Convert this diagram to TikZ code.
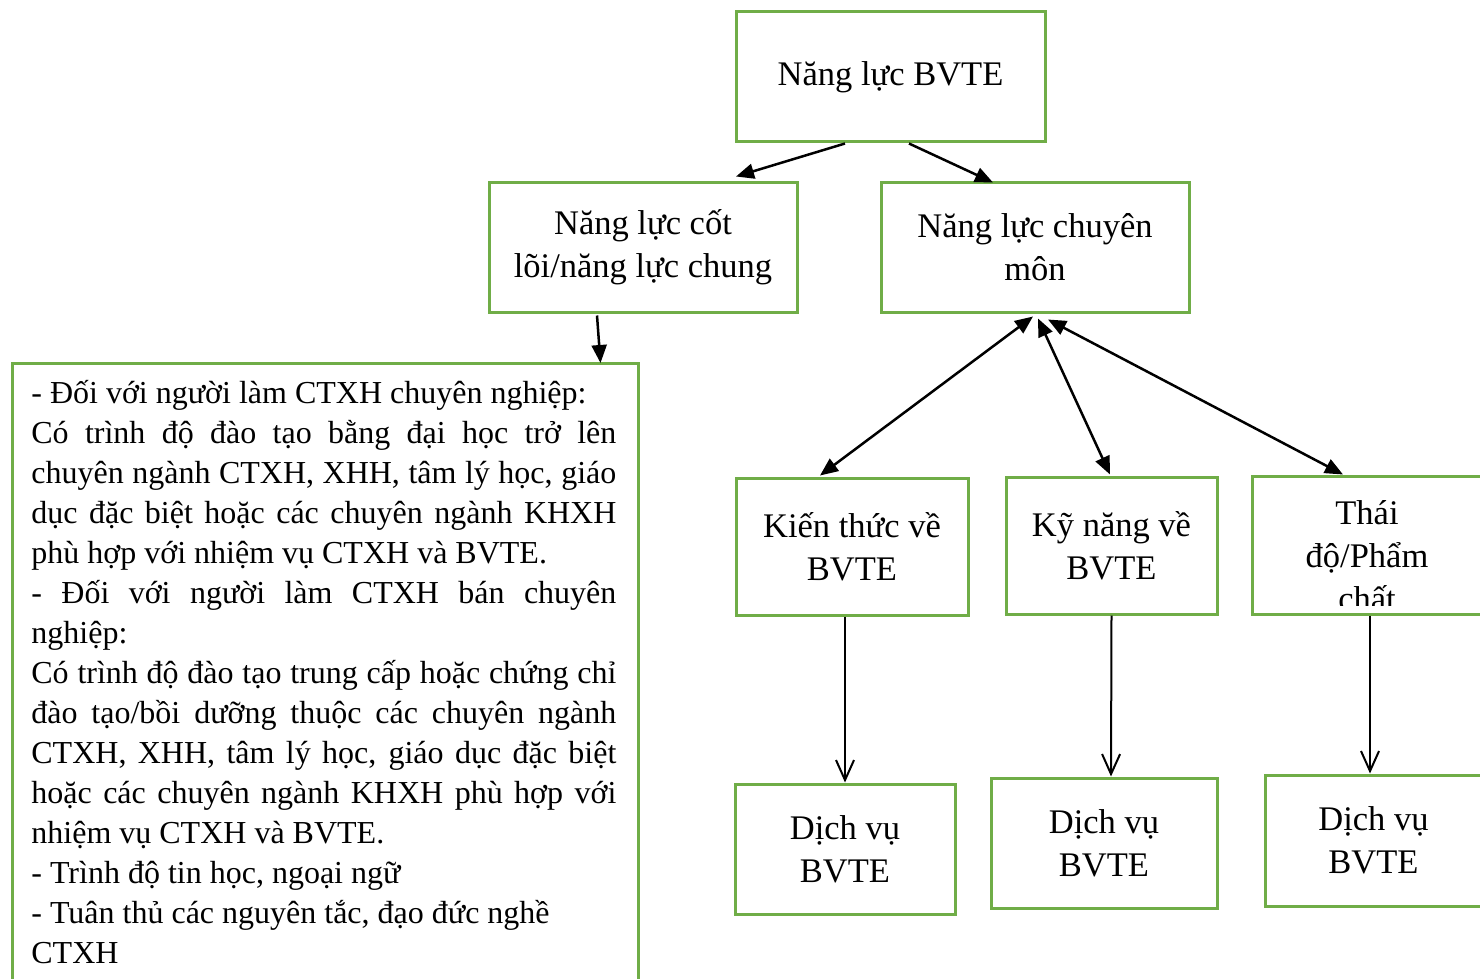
\documentclass[tikz,border=0pt]{standalone}
\usepackage{fontspec}
\setmainfont{Liberation Serif}
\usetikzlibrary{arrows.meta}
\definecolor{boxgreen}{RGB}{112,173,71}

\begin{document}
\begin{tikzpicture}[x=1pt,y=-1pt,>={Triangle[length=18pt,width=15pt]},
  thick,green box/.style={rectangle,draw=boxgreen,line width=3pt,inner sep=0pt,
    align=center,font=\fontsize{34.5}{43}\selectfont},
  body text/.style={anchor=base west,inner sep=0pt,text width=585pt,align=justify,
    font=\fontsize{32}{40}\selectfont},
  link/.style={line width=2.5pt},
  down link/.style={line width=2pt,-{Straight Barb[length=20pt,width=18pt]}}]
  \useasboundingbox (0,0) rectangle (1480,979);
  \clip (0,0) rectangle (1480,979);

  \node[green box,minimum width=309pt,minimum height=130pt] (bvte) at (890.5,77) {Năng lực BVTE};
  \node[green box,minimum width=308pt,minimum height=130pt] (core) at (643,247) {Năng lực cốt\\lõi/năng lực chung};
  \node[green box,minimum width=308pt,minimum height=130pt] (cm) at (1035,247) {Năng lực chuyên\\môn};

  %left
  \node[green box,minimum width=626pt,minimum height=660pt,anchor=north west] (leftbox) at (11,362) {};
  \node[body text] (lefttext) at (31,403) {%
    - Đối với người làm CTXH chuyên nghiệp:\\
    Có trình độ đào tạo bằng đại học trở lên\linebreak
    chuyên ngành CTXH, XHH, tâm lý học, giáo\linebreak
    dục đặc biệt hoặc các chuyên ngành KHXH\linebreak
    phù hợp với nhiệm vụ CTXH và BVTE.\\
    - Đối với người làm CTXH bán chuyên\linebreak
    nghiệp:\\
    Có trình độ đào tạo trung cấp hoặc chứng chỉ\linebreak
    đào tạo/bồi dưỡng thuộc các chuyên ngành\linebreak
    CTXH, XHH, tâm lý học, giáo dục đặc biệt\linebreak
    hoặc các chuyên ngành KHXH phù hợp với\linebreak
    nhiệm vụ CTXH và BVTE.\\
    - Trình độ tin học, ngoại ngữ\\
    - Tuân thủ các nguyên tắc, đạo đức nghề\\
    CTXH};

  %right
  \node[green box,minimum width=232pt,minimum height=137pt] (kt) at (852,546.5) {Kiến thức về\\BVTE};
  \node[green box,minimum width=211pt,minimum height=137pt] (kn) at (1111.5,545.5) {Kỹ năng về\\BVTE};
  \begin{scope}
    \clip (1252,476) rectangle (1482,605);
    \node[green box,draw=none] (tdtext) at (1367,556) {Thái\\độ/Phẩm\\chất};
  \end{scope}
  \node[green box,minimum width=230pt,minimum height=138pt] (td) at (1367,545) {};

  \node[green box,minimum width=220pt,minimum height=130pt] (dv1) at (845,849) {Dịch vụ\\BVTE};
  \node[green box,minimum width=226pt,minimum height=130pt] (dv2) at (1104,843) {Dịch vụ\\BVTE};
  \node[green box,minimum width=217pt,minimum height=131pt] (dv3) at (1373.5,840.5) {Dịch vụ\\BVTE};

  \path[link]
    ([xshift=-45.5pt]bvte.south) edge[->] ([xshift=93pt,yshift=4pt]core.north)
    ([xshift=18.5pt]bvte.south) edge[->] ([xshift=-42pt,yshift=-2pt]cm.north)
    ([xshift=-46pt,yshift=-2pt]core.south) edge[->] ([xshift=275pt,yshift=-1pt]leftbox.north)
    ([xshift=-2pt,yshift=-3pt]cm.south) edge[<->] ([xshift=-32pt,yshift=1pt]kt.north)
    ([xshift=3pt,yshift=-5pt]cm.south) edge[<->] ([xshift=-1.5pt,yshift=1pt]kn.north)
    ([xshift=13pt,yshift=-6pt]cm.south) edge[<->] ([xshift=-24pt]td.north);
  \path[down link]
    ([xshift=-7pt]kt.south) edge (dv1.north)
    (kn.south) edge ([xshift=7pt]dv2.north)
    ([xshift=3pt]td.south) edge ([xshift=-3.5pt]dv3.north);
\end{tikzpicture}
\end{document}
